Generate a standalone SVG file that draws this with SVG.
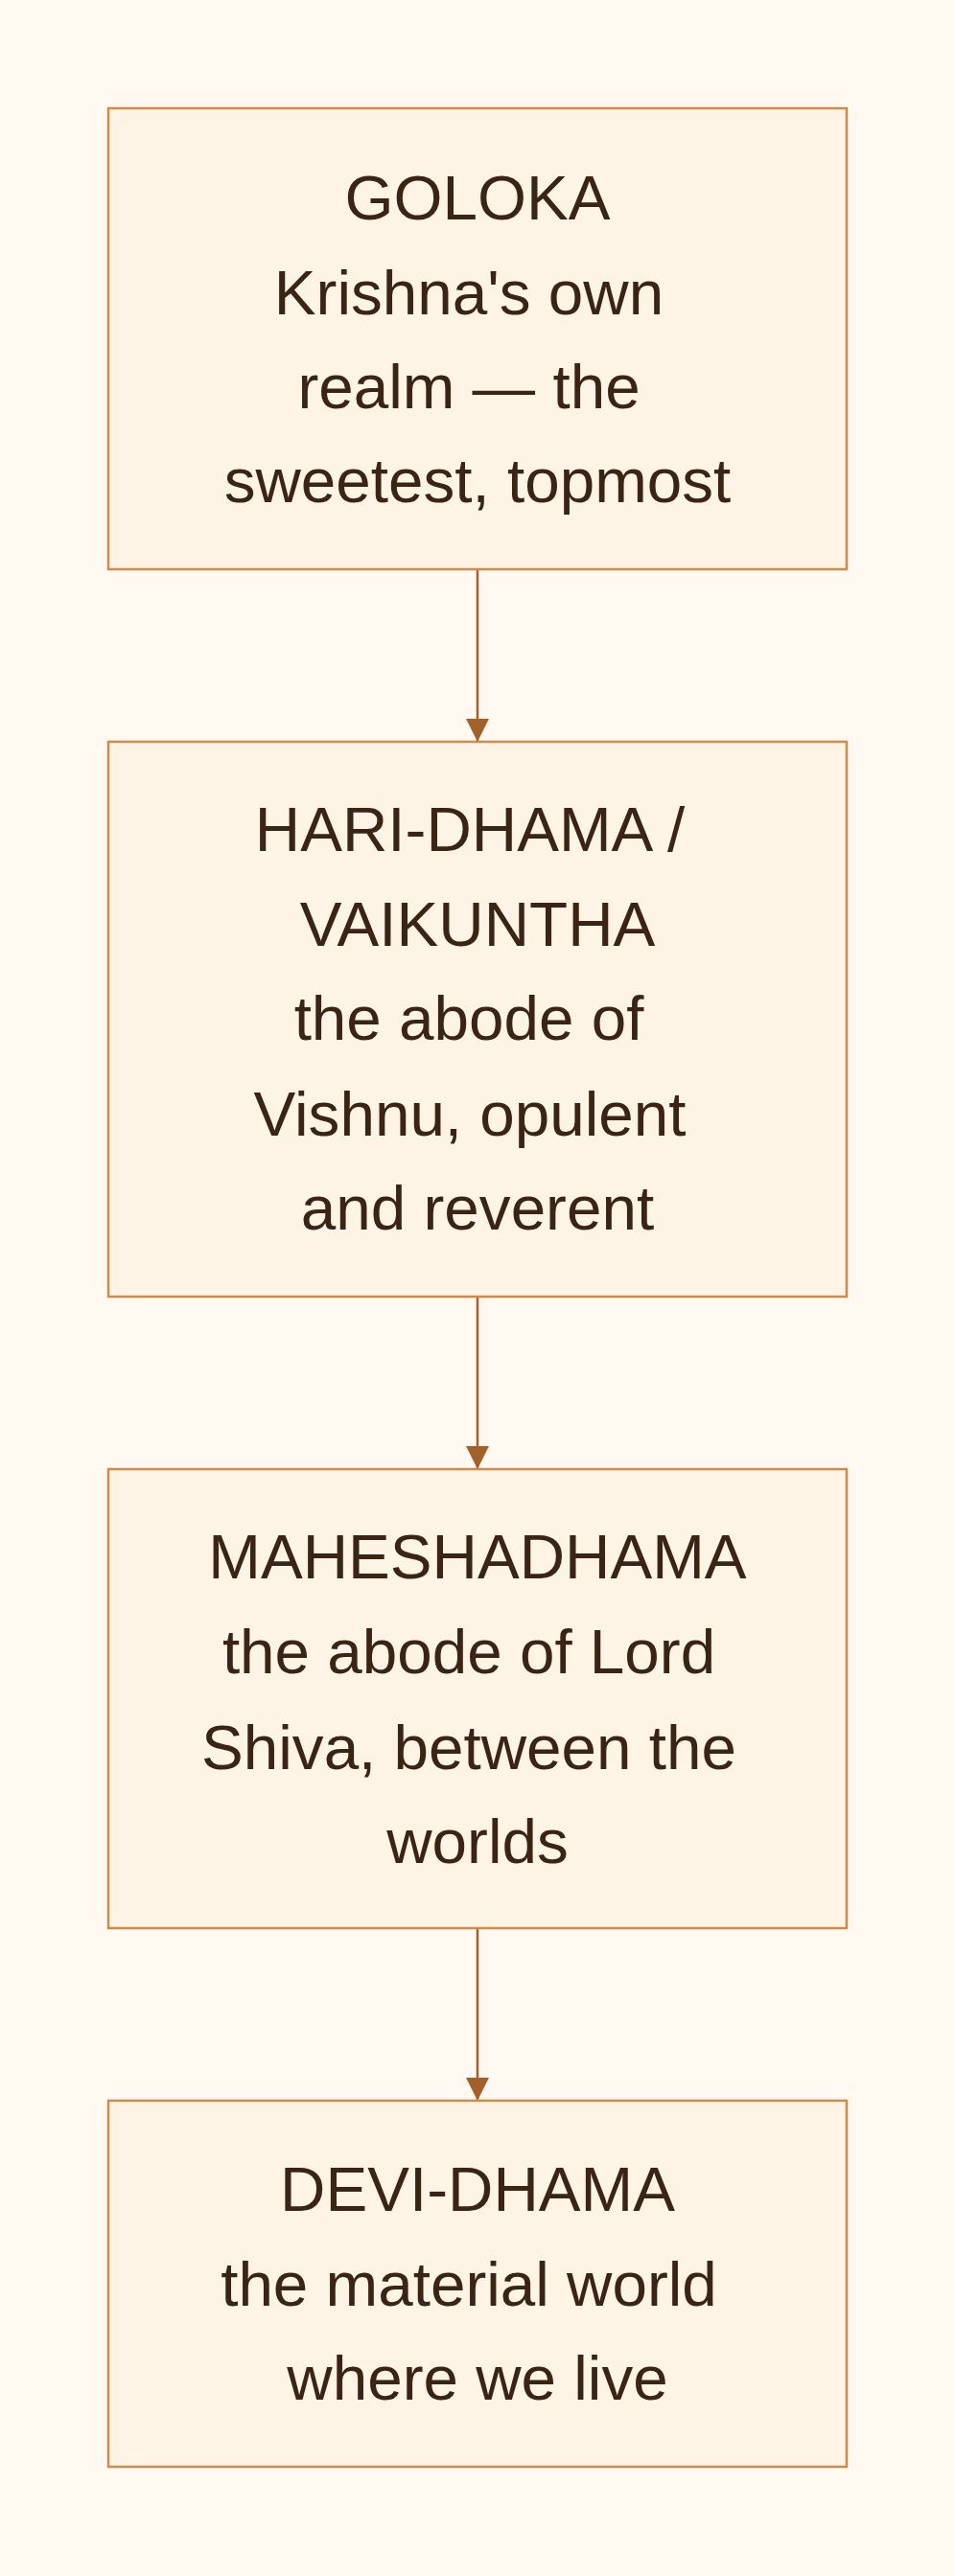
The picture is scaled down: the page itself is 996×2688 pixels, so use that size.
<svg xmlns="http://www.w3.org/2000/svg" width="996" height="2688" viewBox="0 0 996 2688">
  <style>
    .box { fill: #FEF4E6; stroke: #CD8A4A; stroke-width: 2.5; }
    .lbl { font-family: "Liberation Sans", Arial, Helvetica, sans-serif; font-size: 65.6px; fill: #3A2415; text-anchor: middle; }
    .edge { stroke: #A2612B; stroke-width: 2.5; fill: none; }
  </style>
  <defs>
    <marker id="arrow" markerUnits="userSpaceOnUse" markerWidth="24" markerHeight="24" viewBox="0 0 24 24" refX="24" refY="12" orient="auto">
      <path d="M0,0 L24,12 L0,24 Z" fill="#A2612B"/>
    </marker>
  </defs>
  <rect x="0" y="0" width="996" height="2688" fill="#FFF9F2"/>

  <g id="connectors">
    <line class="edge" x1="498" y1="594" x2="498" y2="774" marker-end="url(#arrow)"/>
    <line class="edge" x1="498" y1="1353" x2="498" y2="1533" marker-end="url(#arrow)"/>
    <line class="edge" x1="498" y1="2012" x2="498" y2="2192" marker-end="url(#arrow)"/>
  </g>

  <g id="goloka">
    <rect class="box" x="113" y="113" width="770" height="481"/>
    <text class="lbl" x="498" y="229">GOLOKA</text>
    <text class="lbl" x="489" y="328">Krishna's own</text>
    <text class="lbl" x="489" y="426">realm — the</text>
    <text class="lbl" x="498" y="524">sweetest, topmost</text>
  </g>

  <g id="hari-dhama">
    <rect class="box" x="113" y="774" width="770" height="579"/>
    <text class="lbl" x="490" y="888">HARI-DHAMA /</text>
    <text class="lbl" x="498" y="987">VAIKUNTHA</text>
    <text class="lbl" x="489" y="1085">the abode of</text>
    <text class="lbl" x="490" y="1185">Vishnu, opulent</text>
    <text class="lbl" x="498" y="1283">and reverent</text>
  </g>

  <g id="maheshadhama">
    <rect class="box" x="113" y="1533" width="770" height="479"/>
    <text class="lbl" x="498" y="1647">MAHESHADHAMA</text>
    <text class="lbl" x="489" y="1746">the abode of Lord</text>
    <text class="lbl" x="489" y="1846">Shiva, between the</text>
    <text class="lbl" x="498" y="1944">worlds</text>
  </g>

  <g id="devi-dhama">
    <rect class="box" x="113" y="2192" width="770" height="382"/>
    <text class="lbl" x="498" y="2307">DEVI-DHAMA</text>
    <text class="lbl" x="489" y="2406">the material world</text>
    <text class="lbl" x="498" y="2504">where we live</text>
  </g>
</svg>
